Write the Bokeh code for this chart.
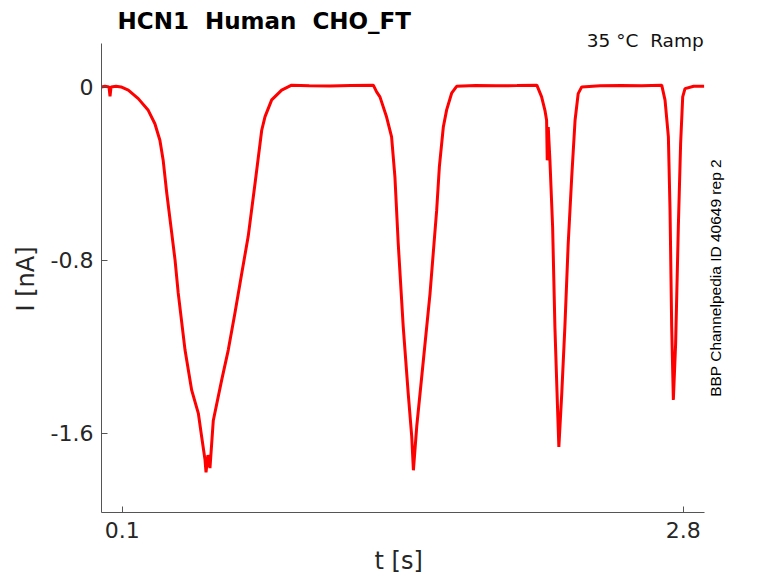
import math
from bokeh.plotting import figure
from bokeh.models import Range1d, FixedTicker, Label, Title
from bokeh.embed import file_html
from bokeh.resources import INLINE

# ---- data ----
t_s = [0.000, 0.017, 0.036, 0.041, 0.046, 0.070, 0.094, 0.129, 0.177, 0.225,
       0.257, 0.281, 0.297, 0.314, 0.338, 0.354, 0.369, 0.402, 0.434, 0.466,
       0.482, 0.498, 0.503, 0.512, 0.522, 0.538, 0.578, 0.610, 0.642, 0.675,
       0.706, 0.739, 0.771, 0.787, 0.819, 0.867, 0.915,
       1.00, 1.10, 1.20, 1.308,
       1.324, 1.340, 1.372, 1.396, 1.412, 1.428, 1.452, 1.476, 1.493, 1.501,
       1.517, 1.549, 1.581, 1.613, 1.626, 1.645, 1.661, 1.685, 1.709,
       1.80, 1.90, 2.00, 2.095,
       2.118, 2.134, 2.142, 2.145, 2.150, 2.158, 2.171, 2.182, 2.195, 2.201,
       2.215, 2.230, 2.246, 2.263, 2.279, 2.294, 2.311,
       2.40, 2.50, 2.60, 2.696,
       2.712, 2.728, 2.736, 2.744, 2.752, 2.763, 2.776, 2.787, 2.797, 2.808,
       2.85, 2.90]
i_na = [0.000, 0.003, 0.000, -0.043, 0.000, 0.003, 0.000, -0.015, -0.054, -0.108,
        -0.170, -0.246, -0.340, -0.490, -0.675, -0.800, -0.950, -1.215, -1.400, -1.507,
        -1.615, -1.720, -1.780, -1.700, -1.760, -1.540, -1.355, -1.215, -1.045, -0.860,
        -0.690, -0.445, -0.200, -0.137, -0.060, -0.015, 0.008,
        0.005, 0.004, 0.006, 0.008,
        -0.023, -0.046, -0.139, -0.231, -0.414, -0.723, -1.107, -1.415, -1.615, -1.770,
        -1.568, -1.262, -0.954, -0.569, -0.368, -0.185, -0.106, -0.029, 0.003,
        0.006, 0.005, 0.006, 0.008,
        -0.046, -0.108, -0.154, -0.339, -0.185, -0.339, -0.647, -1.109, -1.493, -1.662,
        -1.415, -1.107, -0.723, -0.414, -0.154, -0.031, 0.000,
        0.005, 0.006, 0.005, 0.008,
        -0.061, -0.229, -0.569, -1.107, -1.445, -1.184, -0.645, -0.260, -0.046, -0.008,
        0.003, 0.003]

x_ticks = [0.1, 2.8]
x_tick_labels = ["0.1", "2.8"]
y_ticks = [-1.6, -0.8, 0.0]
y_tick_labels = ["-1.6", "-0.8", "0"]
x_axis_extent = (0.0, 2.9)
y_axis_extent = (-1.965, 0.2)

title_text = "HCN1 \u00a0Human \u00a0CHO_FT"
cond_text = "35 °C \u00a0Ramp"
side_text = "BBP Channelpedia ID 40649 rep 2"
x_label = "t [s]"
y_label = "I [nA]"

# frame extends to the top and right canvas edges so that the title and side
# notes (drawn as labels) are not clipped; axis lines are bounded to the data box
p = figure(width=778, height=583, output_backend="svg", toolbar_location=None,
           title=None,
           x_range=Range1d(0.0, 3.258), y_range=Range1d(-1.965, 0.399),
           min_border_left=101, min_border_right=0, min_border_top=0,
           min_border_bottom=71)
p.outline_line_color = None
p.grid.visible = False
p.background_fill_color = "white"
p.border_fill_color = "white"

p.line(t_s, i_na, line_color="#ff0000", line_width=3)

for ax in (p.xaxis[0], p.yaxis[0]):
    ax.axis_line_color = "#555555"
    ax.major_tick_line_color = "#555555"
    ax.major_tick_in = 6
    ax.major_tick_out = 0
    ax.minor_tick_line_color = None
    ax.major_label_text_font = "DejaVu Sans"
    ax.major_label_text_font_size = "22px"
    ax.major_label_text_color = "#262626"

p.xaxis[0].bounds = x_axis_extent
p.xaxis[0].ticker = FixedTicker(ticks=x_ticks)
p.xaxis[0].major_label_overrides = dict(zip(x_ticks, x_tick_labels))
p.xaxis[0].major_label_standoff = 9

p.yaxis[0].bounds = y_axis_extent
p.yaxis[0].ticker = FixedTicker(ticks=y_ticks)
p.yaxis[0].major_label_overrides = dict(zip(y_ticks, y_tick_labels))
p.yaxis[0].major_label_standoff = 8

# axis titles as side-panel titles, positioned along the bounded axes
p.add_layout(Title(text=x_label, align="left", offset=273, standoff=12,
                   vertical_align="top", text_font="DejaVu Sans",
                   text_font_size="24px", text_font_style="normal",
                   text_color="#262626"), "below")
p.add_layout(Title(text=y_label, align="left", offset=201, standoff=16,
                   vertical_align="bottom", text_font="DejaVu Sans",
                   text_font_size="24px", text_font_style="normal",
                   text_color="#262626"), "left")

p.add_layout(Label(x=0.077, y=0.3065, text=title_text, text_align="left",
                   text_baseline="alphabetic", text_font="DejaVu Sans",
                   text_font_size="23px", text_font_style="bold",
                   text_color="black"))
p.add_layout(Label(x=2.898, y=0.2128, text=cond_text, text_align="right",
                   text_baseline="alphabetic", text_font="DejaVu Sans",
                   text_font_size="18.5px", text_color="#111111"))
p.add_layout(Label(x=2.957, y=-0.882, text=side_text, angle=math.pi / 2,
                   text_align="center", text_baseline="alphabetic",
                   text_font="Liberation Sans", text_font_size="15.5px",
                   text_color="black"))

open("out.html", "w").write(file_html(p, INLINE))
